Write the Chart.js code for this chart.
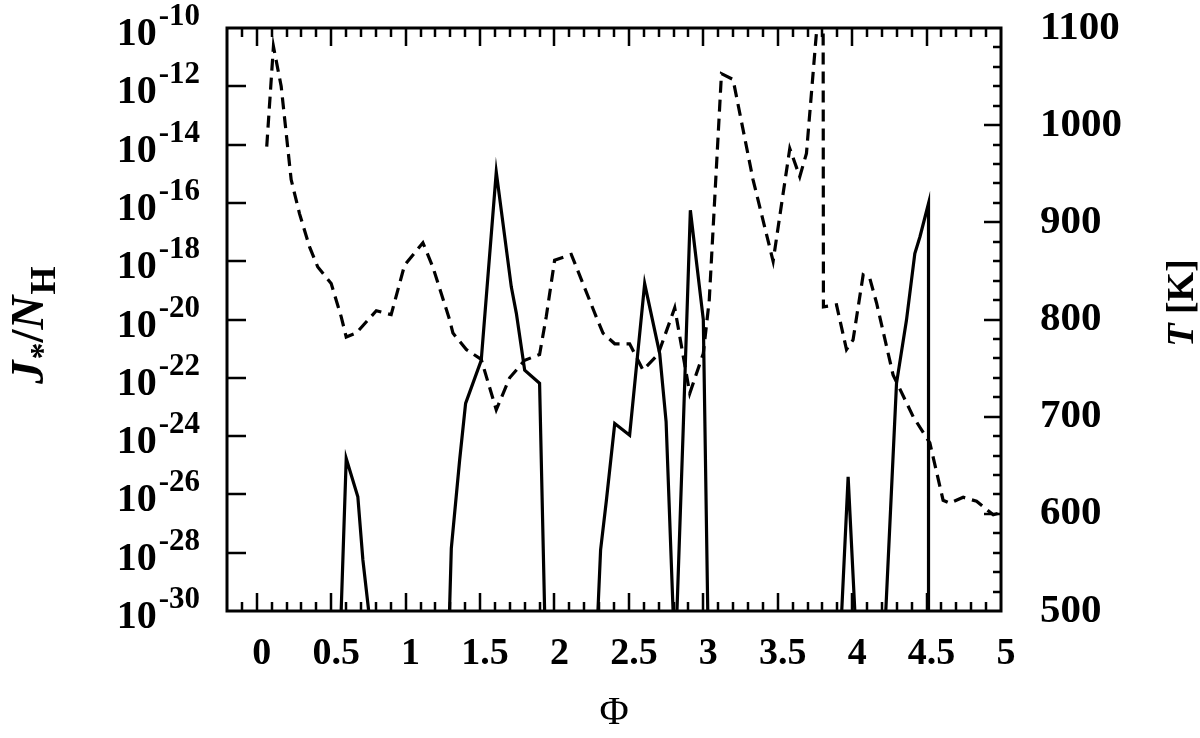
<!DOCTYPE html>
<html>
<head>
<meta charset="utf-8">
<script src="https://cdn.jsdelivr.net/npm/chart.js@4.4.1/dist/chart.umd.min.js"></script>
<style>
    html, body { margin: 0; padding: 0; background: #fff; }
    #wrap { width: 1200px; height: 738px; }
</style>
</head>
<body>
<div id="wrap"><canvas id="grafico" width="1200" height="738"></canvas></div>
<script>
// Dados
// J*/N_H (eixo log à esquerda): fase e expoente log10; null separa os trechos
var phiJ = [0.567, 0.601, 0.679, 0.713, 0.752, 1.0,
            1.295, 1.307, 1.363, 1.403, 1.508, 1.609, 1.71, 1.744, 1.8, 1.9, 1.934, 2.1,
            2.292, 2.31, 2.349, 2.405, 2.505, 2.606, 2.707, 2.75, 2.797, 2.81,
            2.823, 2.864, 2.913, 3.0, 3.03, 3.5,
            3.93, 3.973, 4.018, 4.1,
            4.226, 4.298, 4.365, 4.421, 4.455, 4.513, 4.513];
var logJ = [-30, -24.77, -26.08, -28.25, -30, null,
            -30, -27.85, -24.82, -22.88, -21.4, -14.94, -18.88, -19.79, -21.74, -22.19, -30, null,
            -30, -27.9, -26.2, -23.57, -23.97, -18.77, -21.17, -23.5, -30, null,
            -30, -23.9, -16.25, -20.0, -30, null,
            -30, -25.4, -30, null,
            -30, -22.19, -20.02, -17.74, -17.17, -16.02, -30];

// Temperatura T [K] (eixo à direita, tracejado)
var phiT = [0.067, 0.112, 0.164, 0.231, 0.287, 0.354, 0.41, 0.5, 0.567, 0.601, 0.668, 0.803, 0.903,
            0.993, 1.116, 1.183, 1.295, 1.318, 1.408, 1.508, 1.609, 1.699, 1.8, 1.9, 1.945, 2.001,
            2.113, 2.28, 2.326, 2.405, 2.505, 2.595, 2.696, 2.808, 2.909, 3.0, 3.04, 3.122, 3.2,
            3.334, 3.469, 3.581, 3.648, 3.693, 3.76, 3.78, 3.805, 3.807, 3.895, 3.962, 4.006, 4.074,
            4.119, 4.164, 4.275, 4.41, 4.522, 4.611, 4.656, 4.746, 4.836, 4.948, 4.995];
var tempT = [978, 1081, 1040, 944, 909, 875, 854, 837, 803, 782, 786, 809, 805,
             856, 879, 854, 800, 786, 769, 759, 707, 740, 758, 764, 803, 861,
             867, 803, 786, 775, 775, 748, 764, 812, 724, 765, 820, 1053, 1047,
             944, 860, 976, 947, 971, 1095, 1125, 1125, 813, 815, 769, 779, 846,
             842, 817, 743, 700, 673, 614, 611, 617, 613, 599, 601];

// Ticks
var xTicks = [0, 0.5, 1, 1.5, 2, 2.5, 3, 3.5, 4, 4.5, 5];
var jExpTicks = [-10, -12, -14, -16, -18, -20, -22, -24, -26, -28, -30];
var tTicks = [500, 600, 700, 800, 900, 1000, 1100];

(function () {
    'use strict';

    var SERIF = '"Liberation Serif", "Times New Roman", serif';

    /// Monta os pontos {x, y} a partir dos arrays.
    function montarPontos(xs, ys, conv) {
        var pts = [];
        for (var i = 0; i < xs.length; i++) {
            pts.push({ x: xs[i], y: ys[i] === null ? null : conv(ys[i]) });
        }
        return pts;
    }

    /// Zera o padding extra que as escalas pedem para rótulos nas pontas.
    function semPaddingExtra(s) {
        s.paddingTop = 0;
        s.paddingBottom = 0;
        s.paddingLeft = 0;
        s.paddingRight = 0;
    }

    /// Desenha marcas internas, moldura, rótulos 10^n e títulos dos eixos.
    var marcasPlugin = {
        id: 'marcas',
        afterDraw: function (chart) {
            var ctx = chart.ctx;
            var a = chart.chartArea;
            var sx = chart.scales.x, sy = chart.scales.y, st = chart.scales.y2;
            var i, px, py, len;

            ctx.save();
            ctx.strokeStyle = '#000';
            ctx.lineWidth = 2.5;
            ctx.beginPath();
            // eixo x (baixo e cima)
            for (i = -1; i < 50; i++) {
                px = Math.round(sx.getPixelForValue(i / 10));
                len = (i >= 0 && i % 5 === 0) ? 18 : 9;
                ctx.moveTo(px, a.bottom); ctx.lineTo(px, a.bottom - len);
                ctx.moveTo(px, a.top); ctx.lineTo(px, a.top + len);
            }
            // eixo esquerdo (décadas pares)
            for (i = 1; i < jExpTicks.length - 1; i++) {
                py = Math.round(sy.getPixelForValue(Math.pow(10, jExpTicks[i])));
                ctx.moveTo(a.left, py); ctx.lineTo(a.left + 19, py);
            }
            // eixo direito (T)
            for (var t = 520; t < 1100; t += 20) {
                py = Math.round(st.getPixelForValue(t));
                len = (t % 100 === 0) ? 17 : 8;
                ctx.moveTo(a.right, py); ctx.lineTo(a.right - len, py);
            }
            ctx.stroke();

            ctx.lineWidth = 3;
            ctx.strokeRect(a.left, a.top, a.right - a.left, a.bottom - a.top);

            // rótulos 10^n
            ctx.fillStyle = '#000';
            ctx.textBaseline = 'alphabetic';
            ctx.textAlign = 'left';
            jExpTicks.forEach(function (e) {
                var y = sy.getPixelForValue(Math.pow(10, e));
                ctx.font = 'bold 31px ' + SERIF;
                var sup = String(e);
                var wSup = ctx.measureText(sup).width;
                ctx.font = 'bold 40px ' + SERIF;
                var wBase = ctx.measureText('10').width;
                var x0 = 200 - wSup - wBase - 2;
                ctx.fillText('10', x0, y + 17);
                ctx.font = 'bold 31px ' + SERIF;
                ctx.fillText(sup, x0 + wBase + 2, y - 3);
            });

            // título esquerdo: J*/N_H
            ctx.save();
            ctx.translate(43, 384);
            ctx.rotate(-Math.PI / 2);
            var pos = 0;
            ctx.font = 'italic bold 47px ' + SERIF;
            ctx.fillText('J', pos, 0); pos += ctx.measureText('J').width + 1;
            ctx.font = 'bold 34px ' + SERIF;
            ctx.fillText('*', pos, 10); pos += ctx.measureText('*').width;
            ctx.font = 'bold 47px ' + SERIF;
            ctx.fillText('/', pos, 0); pos += ctx.measureText('/').width;
            ctx.font = 'italic bold 47px ' + SERIF;
            ctx.fillText('N', pos, 0); pos += ctx.measureText('N').width + 1;
            ctx.font = 'bold 36px ' + SERIF;
            ctx.fillText('H', pos, 12);
            ctx.restore();

            // título direito: T [K]
            ctx.save();
            ctx.translate(1193, 303);
            ctx.rotate(-Math.PI / 2);
            ctx.font = 'italic bold 38px ' + SERIF;
            var wT = ctx.measureText('T').width;
            ctx.font = 'bold 38px ' + SERIF;
            var wK = ctx.measureText(' [K]').width;
            var start = -(wT + wK) / 2;
            ctx.font = 'italic bold 38px ' + SERIF;
            ctx.fillText('T', start, 0);
            ctx.font = 'bold 38px ' + SERIF;
            ctx.fillText(' [K]', start + wT, 0);
            ctx.restore();

            ctx.restore();
        }
    };

    var dadosJ = montarPontos(phiJ, logJ, function (v) { return Math.pow(10, v); });
    var dadosT = montarPontos(phiT, tempT, function (v) { return v; });

    new Chart(document.getElementById('grafico'), {
        type: 'line',
        data: {
            datasets: [
                {
                    label: 'J*/NH',
                    data: dadosJ,
                    yAxisID: 'y',
                    borderColor: '#000',
                    borderWidth: 3.2,
                    pointRadius: 0,
                    tension: 0,
                    spanGaps: false,
                    clip: 0
                },
                {
                    label: 'T',
                    data: dadosT,
                    yAxisID: 'y2',
                    borderColor: '#000',
                    borderWidth: 3.2,
                    borderDash: [12, 7],
                    pointRadius: 0,
                    tension: 0,
                    clip: 0
                }
            ]
        },
        options: {
            responsive: false,
            animation: false,
            events: [],
            layout: { padding: { top: 28, left: 0, right: 0, bottom: 0 } },
            plugins: { legend: { display: false }, tooltip: { enabled: false } },
            scales: {
                x: {
                    type: 'linear',
                    min: -0.2,
                    max: 5,
                    afterBuildTicks: function (s) { s.ticks = xTicks.map(function (v) { return { value: v }; }); },
                    afterFit: function (s) { s.height = 127; semPaddingExtra(s); },
                    grid: { display: false, drawTicks: false },
                    border: { display: false },
                    ticks: {
                        color: '#000',
                        font: { family: SERIF, size: 38, weight: 'bold' },
                        padding: 20,
                        labelOffset: 5,
                        maxRotation: 0,
                        autoSkip: false,
                        callback: function (v) { return String(v); }
                    },
                    title: {
                        display: true,
                        text: 'Φ',
                        color: '#000',
                        font: { family: SERIF, size: 40 },
                        padding: { top: 0, bottom: 1 }
                    }
                },
                y: {
                    type: 'logarithmic',
                    position: 'left',
                    min: 1e-30,
                    max: 1e-10,
                    afterBuildTicks: function (s) { s.ticks = jExpTicks.map(function (e) { return { value: Math.pow(10, e) }; }); },
                    afterFit: function (s) { s.width = 227; semPaddingExtra(s); },
                    grid: { display: false, drawTicks: false },
                    border: { display: false },
                    ticks: { display: false }
                },
                y2: {
                    type: 'linear',
                    position: 'right',
                    min: 500,
                    max: 1100,
                    afterBuildTicks: function (s) { s.ticks = tTicks.map(function (v) { return { value: v }; }); },
                    afterFit: function (s) { s.width = 199; semPaddingExtra(s); },
                    grid: { display: false, drawTicks: false },
                    border: { display: false },
                    ticks: {
                        color: '#000',
                        font: { family: SERIF, size: 41, weight: 'bold' },
                        padding: 39,
                        callback: function (v) { return String(v); }
                    }
                }
            }
        },
        plugins: [marcasPlugin]
    });
})();
</script>
</body>
</html>
